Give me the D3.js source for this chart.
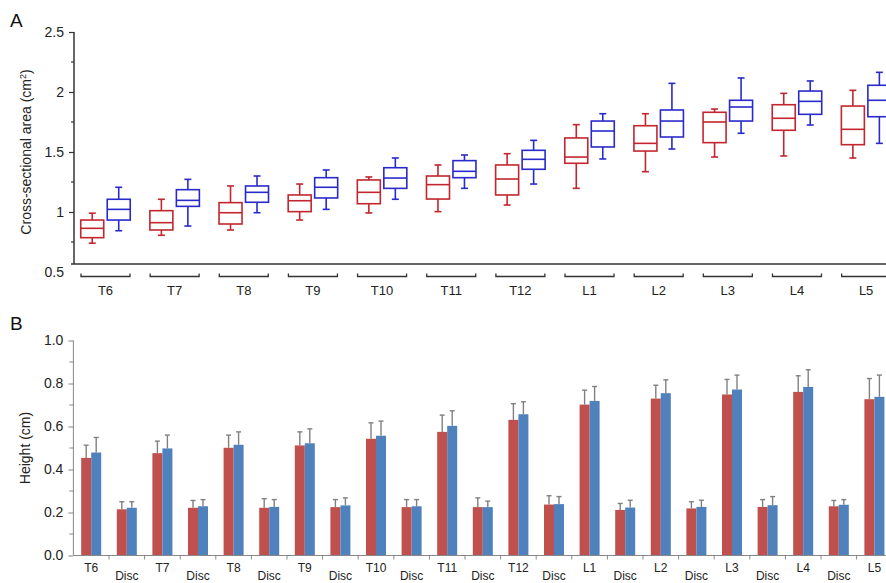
<!DOCTYPE html>
<html>
<head>
<meta charset="utf-8">
<script src="https://cdn.jsdelivr.net/npm/d3@7"></script>
<style>
  body { margin: 0; background: #fff; }
  svg { display: block; font-family: "Liberation Sans", Arial, sans-serif; }
</style>
</head>
<body>
<svg id="chart" width="886" height="583"></svg>
<script>
// panel A: cross-sectional area, [lower whisker, q1, median, q3, upper whisker]
var levels = ["T6", "T7", "T8", "T9", "T10", "T11", "T12", "L1", "L2", "L3", "L4", "L5"];
var areaRed = [
  [0.74, 0.786, 0.864, 0.933, 0.99],
  [0.806, 0.85, 0.911, 1.011, 1.106],
  [0.85, 0.9, 0.994, 1.078, 1.217],
  [0.933, 1.003, 1.094, 1.142, 1.233],
  [0.992, 1.069, 1.164, 1.267, 1.292],
  [1.003, 1.108, 1.228, 1.3, 1.392],
  [1.058, 1.142, 1.275, 1.392, 1.486],
  [1.197, 1.406, 1.458, 1.617, 1.728],
  [1.336, 1.508, 1.572, 1.719, 1.819],
  [1.458, 1.578, 1.75, 1.831, 1.858],
  [1.467, 1.681, 1.781, 1.894, 1.989],
  [1.45, 1.561, 1.689, 1.883, 2.014]
];
var areaBlue = [
  [0.844, 0.933, 1.022, 1.106, 1.206],
  [0.883, 1.047, 1.097, 1.186, 1.272],
  [0.994, 1.081, 1.164, 1.217, 1.3],
  [1.022, 1.117, 1.206, 1.286, 1.35],
  [1.106, 1.197, 1.283, 1.369, 1.45],
  [1.197, 1.286, 1.339, 1.428, 1.475],
  [1.233, 1.356, 1.439, 1.514, 1.597],
  [1.442, 1.542, 1.675, 1.758, 1.819],
  [1.525, 1.625, 1.758, 1.85, 2.072],
  [1.656, 1.758, 1.875, 1.931, 2.117],
  [1.725, 1.814, 1.922, 2.008, 2.092],
  [1.572, 1.794, 1.931, 2.056, 2.164]
];
var areaTicks = [0.5, 1, 1.5, 2, 2.5];

// panel B: height, mean and SD
var heightCats = ["T6", "Disc", "T7", "Disc", "T8", "Disc", "T9", "Disc", "T10", "Disc", "T11", "Disc",
                  "T12", "Disc", "L1", "Disc", "L2", "Disc", "L3", "Disc", "L4", "Disc", "L5"];
var heightRed = [0.454, 0.215, 0.476, 0.222, 0.501, 0.222, 0.512, 0.225, 0.543, 0.225, 0.575, 0.225,
                 0.631, 0.237, 0.702, 0.212, 0.730, 0.219, 0.749, 0.226, 0.761, 0.229, 0.727];
var heightRedSd = [0.059, 0.035, 0.056, 0.034, 0.059, 0.042, 0.063, 0.035, 0.074, 0.035, 0.078, 0.043,
                   0.075, 0.041, 0.067, 0.030, 0.062, 0.031, 0.070, 0.034, 0.075, 0.027, 0.096];
var heightBlue = [0.479, 0.222, 0.498, 0.229, 0.515, 0.226, 0.522, 0.233, 0.557, 0.229, 0.603, 0.225,
                  0.657, 0.239, 0.719, 0.223, 0.755, 0.226, 0.772, 0.234, 0.784, 0.236, 0.738];
var heightBlueSd = [0.070, 0.028, 0.062, 0.031, 0.060, 0.034, 0.067, 0.035, 0.068, 0.031, 0.070, 0.028,
                    0.058, 0.035, 0.067, 0.034, 0.062, 0.031, 0.067, 0.040, 0.080, 0.024, 0.101];
var heightTicks = [0, 0.2, 0.4, 0.6, 0.8, 1.0];

var svg = d3.select("#chart");
var textColor = "#222";

// ---------- panel A ----------
var axA = 74, baseA = 264;
var yA = d3.scaleLinear().domain([0.5, 2.5]).range([272, 32]);
var xA = d3.scaleBand().domain(levels).range([70.9, 70.9 + 12 * 69.15]);
var side = d3.scaleBand().domain(["red", "blue"]).range([0, xA.bandwidth()]).paddingInner(0.03).paddingOuter(0.32);
var boxW = 23, capW = 7;
var boxColor = {red: "#c3262f", blue: "#2a2acb"};

var gA = svg.append("g");

// y axis
var yAxisA = d3.axisLeft(yA).tickValues(areaTicks).tickFormat(d3.format("")).tickSize(5).tickPadding(5);
var gy = gA.append("g").attr("transform", "translate(" + axA + ",0)").call(yAxisA);
gy.select(".domain").remove();
gy.selectAll(".tick line").attr("stroke", "#333").attr("stroke-width", 1.2)
  .filter(function(d) { return d === 0.5; }).remove();
gy.selectAll(".tick text").attr("fill", textColor).style("font-size", "14px");
gA.append("g").selectAll("line").data([0.75, 1.25, 1.75, 2.25]).join("line")
  .attr("x1", axA - 3).attr("x2", axA).attr("y1", function(d) { return yA(d); }).attr("y2", function(d) { return yA(d); })
  .attr("stroke", "#333").attr("stroke-width", 1.2);
gA.append("line").attr("x1", axA).attr("x2", axA).attr("y1", yA(2.5)).attr("y2", baseA)
  .attr("stroke", "#333").attr("stroke-width", 1.5);
gA.append("line").attr("x1", 71).attr("x2", 886).attr("y1", baseA).attr("y2", baseA)
  .attr("stroke", "#333").attr("stroke-width", 1.5);

// group brackets and labels
var br = gA.append("g").selectAll("g").data(levels).join("g")
  .attr("transform", function(d) { return "translate(" + (xA(d) + xA.bandwidth() / 2) + ",0)"; });
br.append("path")
  .attr("d", "M-24.5,273.5V276.5H24.5V273.5")
  .attr("fill", "none").attr("stroke", "#333").attr("stroke-width", 1.3);
br.append("text").attr("y", 295).attr("text-anchor", "middle")
  .attr("fill", textColor).style("font-size", "13px").text(function(d) { return d; });

// boxes
function drawBoxes(data, key) {
  var g = gA.append("g").selectAll("g").data(data).join("g")
    .attr("transform", function(d, i) { return "translate(" + (xA(levels[i]) + side(key) + side.bandwidth() / 2) + ",0)"; })
    .attr("stroke", boxColor[key]).attr("stroke-width", 1.6).attr("fill", "none");
  g.append("line").attr("x1", 0).attr("x2", 0)
    .attr("y1", function(d) { return yA(d[4]); }).attr("y2", function(d) { return yA(d[3]); });
  g.append("line").attr("x1", 0).attr("x2", 0)
    .attr("y1", function(d) { return yA(d[1]); }).attr("y2", function(d) { return yA(d[0]); });
  g.append("line").attr("x1", -capW / 2).attr("x2", capW / 2)
    .attr("y1", function(d) { return yA(d[4]); }).attr("y2", function(d) { return yA(d[4]); });
  g.append("line").attr("x1", -capW / 2).attr("x2", capW / 2)
    .attr("y1", function(d) { return yA(d[0]); }).attr("y2", function(d) { return yA(d[0]); });
  g.append("rect").attr("x", -boxW / 2).attr("width", boxW)
    .attr("y", function(d) { return yA(d[3]); })
    .attr("height", function(d) { return yA(d[1]) - yA(d[3]); });
  g.append("line").attr("x1", -boxW / 2).attr("x2", boxW / 2)
    .attr("y1", function(d) { return yA(d[2]); }).attr("y2", function(d) { return yA(d[2]); });
}
drawBoxes(areaRed, "red");
drawBoxes(areaBlue, "blue");

gA.append("text").attr("x", 10).attr("y", 27).attr("fill", "#111").style("font-size", "19px").text("A");
gA.append("text").attr("transform", "translate(31,152) rotate(-90)").attr("text-anchor", "middle")
  .attr("fill", textColor).style("font-size", "14px")
  .html('Cross-sectional area (cm<tspan dy="-5" font-size="9px">2</tspan><tspan dy="5">)</tspan>');

// ---------- panel B ----------
var axB = 73.4;
var yB = d3.scaleLinear().domain([0, 1]).range([555.5, 340.5]);
var idx = d3.range(heightCats.length);
var xB = d3.scaleBand().domain(idx).range([axB, axB + 23 * 35.6]);
var pair = d3.scaleBand().domain(["red", "blue"]).range([0, xB.bandwidth()]).paddingOuter(0.78);
var barColor = {red: "#c0504d", blue: "#4f81bd"};

var gB = svg.append("g");

var yAxisB = d3.axisLeft(yB).tickValues(heightTicks).tickFormat(d3.format(".1f")).tickSize(5).tickPadding(5);
var gyb = gB.append("g").attr("transform", "translate(" + axB + ",0)").call(yAxisB);
gyb.select(".domain").remove();
gyb.selectAll(".tick line").attr("stroke", "#888");
gyb.selectAll(".tick text").attr("fill", textColor).style("font-size", "14px");
gB.append("g").selectAll("line").data([0.1, 0.3, 0.5, 0.7, 0.9]).join("line")
  .attr("x1", axB - 4).attr("x2", axB).attr("y1", function(d) { return yB(d); }).attr("y2", function(d) { return yB(d); })
  .attr("stroke", "#888");
gB.append("line").attr("x1", axB).attr("x2", axB).attr("y1", yB(1)).attr("y2", yB(0)).attr("stroke", "#888");

// bars
function drawBars(vals, sds, key) {
  var g = gB.append("g");
  g.selectAll("rect").data(vals).join("rect")
    .attr("x", function(d, i) { return xB(i) + pair(key); })
    .attr("width", pair.bandwidth())
    .attr("y", function(d) { return yB(d); })
    .attr("height", function(d) { return yB(0) - yB(d); })
    .attr("fill", barColor[key]);
  var e = g.append("g").attr("stroke", "#808080").attr("stroke-width", 1.4);
  e.selectAll("line.v").data(vals).join("line").attr("class", "v")
    .attr("x1", function(d, i) { return xB(i) + pair(key) + pair.bandwidth() / 2; })
    .attr("x2", function(d, i) { return xB(i) + pair(key) + pair.bandwidth() / 2; })
    .attr("y1", function(d) { return yB(d); })
    .attr("y2", function(d, i) { return yB(d + sds[i]); });
  e.selectAll("line.c").data(vals).join("line").attr("class", "c")
    .attr("x1", function(d, i) { return xB(i) + pair(key) + pair.bandwidth() / 2 - 2.5; })
    .attr("x2", function(d, i) { return xB(i) + pair(key) + pair.bandwidth() / 2 + 2.5; })
    .attr("y1", function(d, i) { return yB(d + sds[i]); })
    .attr("y2", function(d, i) { return yB(d + sds[i]); });
}
drawBars(heightRed, heightRedSd, "red");
drawBars(heightBlue, heightBlueSd, "blue");

// x axis
gB.append("line").attr("x1", axB).attr("x2", 886).attr("y1", yB(0)).attr("y2", yB(0)).attr("stroke", "#888");
gB.append("g").selectAll("line").data(idx.slice(1)).join("line")
  .attr("x1", function(d) { return xB(d); }).attr("x2", function(d) { return xB(d); })
  .attr("y1", yB(0)).attr("y2", yB(0) + 4).attr("stroke", "#888");
gB.append("g").selectAll("text").data(idx).join("text")
  .attr("x", function(d) { return xB(d) + xB.bandwidth() / 2; })
  .attr("y", function(d) { return heightCats[d] === "Disc" ? 580 : 572; })
  .attr("text-anchor", "middle").attr("fill", textColor).style("font-size", "12px")
  .text(function(d) { return heightCats[d]; });

gB.append("text").attr("x", 10).attr("y", 330).attr("fill", "#111").style("font-size", "19px").text("B");
gB.append("text").attr("transform", "translate(30,448) rotate(-90)").attr("text-anchor", "middle")
  .attr("fill", textColor).style("font-size", "14px").text("Height (cm)");
</script>
</body>
</html>
